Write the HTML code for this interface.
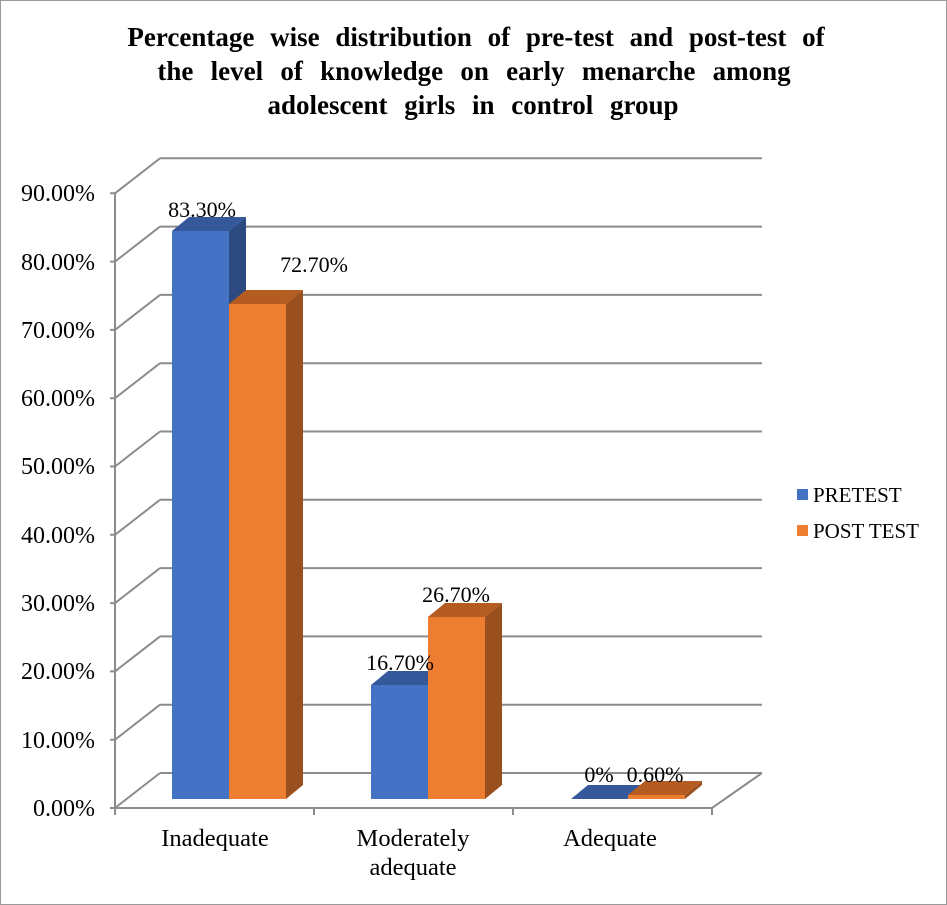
<!DOCTYPE html>
<html><head><style>body{margin:0;background:#fff}svg{display:block}</style></head><body>
<svg width="947" height="905" viewBox="0 0 947 905" font-family="Liberation Serif, serif">
<rect x="0.5" y="0.5" width="946" height="904" fill="#fff" stroke="#9a9a9a"/>
<g font-weight="bold" font-size="27" text-anchor="middle" fill="#000">
<text x="476" y="46" word-spacing="9">Percentage wise distribution of pre-test and post-test of</text>
<text x="474" y="80" word-spacing="10.5">the level of knowledge on early menarche among</text>
<text x="473" y="114" word-spacing="10">adolescent girls in control group</text>
</g>
<g stroke="#8c8c8c" stroke-width="2" fill="none">
<path d="M160 773 H762 M160 704.7 H762 M160 636.4 H762 M160 568.1 H762 M160 499.8 H762 M160 431.5 H762 M160 363.2 H762 M160 294.9 H762 M160 226.6 H762 M160 158.3 H762"/>
<path d="M115 808 L160 773 M115 739.7 L160 704.7 M115 671.4 L160 636.4 M115 603.1 L160 568.1 M115 534.8 L160 499.8 M115 466.5 L160 431.5 M115 398.2 L160 363.2 M115 329.9 L160 294.9 M115 261.6 L160 226.6 M115 193.3 L160 158.3"/>
<path d="M115 193 V808 H712 L762 773"/>
<path d="M110 808H115M110 739.7H115M110 671.4H115M110 603.1H115M110 534.8H115M110 466.5H115M110 398.2H115M110 329.9H115M110 261.6H115M110 193.3H115"/>
<path d="M115 808V815M314 808V815M513 808V815M712 808V815"/>
</g>
<g font-size="24" text-anchor="end" fill="#000">
<text x="95" y="816">0.00%</text><text x="95" y="748">10.00%</text><text x="95" y="679">20.00%</text><text x="95" y="611">30.00%</text><text x="95" y="543">40.00%</text><text x="95" y="474">50.00%</text><text x="95" y="406">60.00%</text><text x="95" y="338">70.00%</text><text x="95" y="270">80.00%</text><text x="95" y="201">90.00%</text>
</g>
<g>
<polygon points="229,231 246,217 246,785 229,799" fill="#2c4a80"/>
<polygon points="172,231 189,217 246,217 229,231" fill="#34589a"/>
<rect x="172" y="231" width="57" height="568" fill="#4472c4"/>
<polygon points="286,304 303,290 303,785 286,799" fill="#9a4f1f"/>
<polygon points="229,304 246,290 303,290 286,304" fill="#b55c23"/>
<rect x="229" y="304" width="57" height="495" fill="#ed7d31"/>
<polygon points="428,685 445,671 445,785 428,799" fill="#2c4a80"/>
<polygon points="371,685 388,671 445,671 428,685" fill="#34589a"/>
<rect x="371" y="685" width="57" height="114" fill="#4472c4"/>
<polygon points="485,617 502,603 502,785 485,799" fill="#9a4f1f"/>
<polygon points="428,617 445,603 502,603 485,617" fill="#b55c23"/>
<rect x="428" y="617" width="57" height="182" fill="#ed7d31"/>
<polygon points="571,799 588,785 645,785 628,799" fill="#34589a"/>
<polygon points="685,795 702,781 702,785 685,799" fill="#9a4f1f"/>
<polygon points="628,795 645,781 702,781 685,795" fill="#b55c23"/>
<rect x="628" y="795" width="57" height="4" fill="#ed7d31"/>
</g>
<g font-size="22" fill="#000" text-anchor="middle">
<text x="202" y="217">83.30%</text>
<text x="314" y="272">72.70%</text>
<text x="400" y="670">16.70%</text>
<text x="456" y="602">26.70%</text>
<text x="599" y="782">0%</text>
<text x="655" y="782">0.60%</text>
</g>
<g font-size="24.5" fill="#000" text-anchor="middle">
<text x="215" y="846">Inadequate</text>
<text x="413" y="846">Moderately</text>
<text x="413" y="875">adequate</text>
<text x="610" y="846">Adequate</text>
</g>
<rect x="797" y="489" width="11" height="11" fill="#4472c4"/>
<rect x="797" y="525" width="11" height="11" fill="#ed7d31"/>
<g font-size="21" fill="#000"><text x="813" y="502">PRETEST</text><text x="813" y="538">POST TEST</text></g>
</svg>
</body></html>
